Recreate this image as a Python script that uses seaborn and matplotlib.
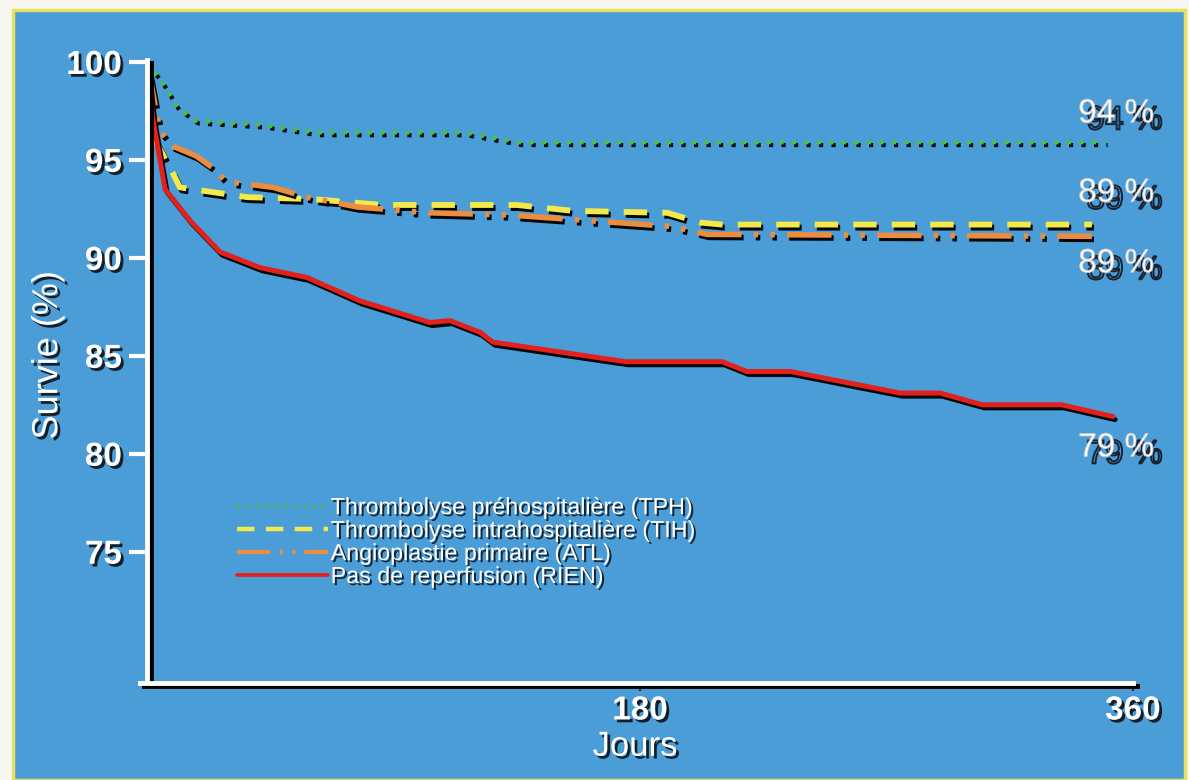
import matplotlib
matplotlib.use("Agg")
import matplotlib.pyplot as plt
import matplotlib.patheffects as pe
from matplotlib.patches import Rectangle
import seaborn as sns

# ---------------- data ----------------
series_names = ["Thrombolyse préhospitalière (TPH)",
                "Thrombolyse intrahospitalière (TIH)",
                "Angioplastie primaire (ATL)",
                "Pas de reperfusion (RIEN)"]

days_tph = [0, 5.8, 11, 18, 42, 62, 116, 136, 350]
surv_tph = [100, 98.9, 97.7, 97.0, 96.8, 96.4, 96.4, 95.9, 95.9]

days_tih = [0, 2.2, 9.5, 12, 26.7, 36.5, 60.6, 86, 135, 155.5, 190, 202, 210, 345]
surv_tih = [100, 96.2, 94.3, 93.6, 93.3, 93.1, 93.0, 92.7, 92.7, 92.4, 92.3, 91.8, 91.7, 91.7]

days_atl = [0, 4.7, 9.5, 18, 24, 29, 46, 58.4, 76.7, 103, 131, 171.6, 192, 204.5, 345]
surv_atl = [100, 96.5, 95.7, 95.2, 94.6, 93.9, 93.6, 93.1, 92.6, 92.3, 92.2, 91.8, 91.6, 91.2, 91.1]

days_rien = [0, 2, 6.6, 15.7, 26.7, 41.3, 58.4, 77.8, 103.3, 110.6, 121.6, 126.3,
             170, 175, 210, 219, 235, 275, 289.5, 305, 334, 352.7]
surv_rien = [100, 97.2, 93.5, 91.9, 90.3, 89.5, 89.0, 87.8, 86.7, 86.8, 86.2, 85.7,
             84.8, 84.7, 84.7, 84.2, 84.2, 83.1, 83.1, 82.5, 82.5, 81.9]

end_labels = ["94 %", "89 %", "89 %", "79 %"]
end_label_y = [97.35, 93.3, 89.7, 80.3]

y_ticks = [75, 80, 85, 90, 95, 100]
x_ticks = [180, 360]

# ---------------- styling ----------------
sns.set_style("white")
plt.rcParams["font.family"] = ["Liberation Sans", "DejaVu Sans"]

BLUE = "#4b9dd8"
fig = plt.figure(figsize=(11.89, 7.80), dpi=100, facecolor="#f7f7f2")
fig.patches.append(Rectangle((13 / 1189, 0), (1185 - 13) / 1189, 1 - 10 / 780,
                             transform=fig.transFigure, facecolor=BLUE,
                             edgecolor="#e8e060", linewidth=2.5, zorder=-5))

ax = fig.add_axes([147 / 1189, 1 - 683 / 780, (1133 - 147) / 1189, (683 - 60) / 780])
ax.set_facecolor("none")
ax.set_zorder(2)

styles = [
    dict(x=days_tph, y=surv_tph, color="#46c24a", lw=3.0, dashes=(1, 2), sh=(1.5, -2)),
    dict(x=days_tih, y=surv_tih, color="#f4e94a", lw=4.2, dashes=(4, 2.6), sh=(1.5, -2.2)),
    dict(x=days_atl, y=surv_atl, color="#ec8c3e", lw=4.0, dashes=(8, 2.2, 0.8, 2.2, 0.8, 2.2), sh=(1.5, -2.2)),
    dict(x=days_rien, y=surv_rien, color="#e3201c", lw=3.6, dashes=None, sh=(1.5, -2.2)),
]

for name, st in zip(series_names, styles):
    sns.lineplot(x=st["x"], y=st["y"], ax=ax, color=st["color"], lw=st["lw"],
                 label=name, estimator=None, sort=False)
    ln = ax.get_lines()[-1]
    if st["dashes"] is not None:
        ln.set_dashes(st["dashes"])
    ln.set_path_effects([pe.SimpleLineShadow(offset=st["sh"], shadow_color="black", alpha=0.95),
                         pe.Normal()])

ax.set_xlim(0, 360)
ax.set_ylim(68.3, 100.1)
ax.set_yticks(y_ticks)
ax.set_xticks(x_ticks)

text_shadow = [pe.withSimplePatchShadow(offset=(2, -2), shadow_rgbFace="#101820", alpha=0.95)]

for lab in ax.get_yticklabels() + ax.get_xticklabels():
    lab.set_fontsize(24)
    lab.set_fontweight("bold")
    lab.set_color("white")
    lab.set_path_effects(text_shadow)

ax.tick_params(axis="y", direction="out", length=13, width=3, color="white", pad=5, left=True)
ax.tick_params(axis="x", direction="out", length=6, width=1.5, color="#333333", pad=3, bottom=True)

for side in ["top", "right"]:
    ax.spines[side].set_visible(False)
for side in ["left", "bottom"]:
    sp = ax.spines[side]
    sp.set_color("white")
    sp.set_linewidth(3.5)
    sp.set_path_effects([pe.SimpleLineShadow(offset=(3, -2), shadow_color="black", alpha=1),
                         pe.Normal()])
ax.spines["bottom"].set_bounds(-2.5, 360)

ax.set_ylabel("Survie (%)", fontsize=26, color="white", path_effects=text_shadow)
ax.yaxis.set_label_coords(-0.083, 0.526)
ax.set_xlabel("Jours", fontsize=25, color="white", path_effects=text_shadow)
ax.xaxis.set_label_coords(0.495, -0.075)

leg = ax.legend(loc="upper left", bbox_to_anchor=(0.082, 0.315), frameon=False,
                fontsize=16.75, handlelength=3.9, handletextpad=0.12, labelspacing=0.0,
                borderaxespad=0)
for t in leg.get_texts():
    t.set_color("white")
    t.set_path_effects([pe.withSimplePatchShadow(offset=(1.5, -1.5),
                                                 shadow_rgbFace="#101820", alpha=0.9)])
for h, st in zip(leg.get_lines(), styles):
    h.set_linewidth(st["lw"] * 0.75)
    h.set_path_effects([])

end_fx = [pe.PathPatchEffect(offset=(6, -5), edgecolor="#1a2230", facecolor="none", linewidth=1.4),
          pe.PathPatchEffect(edgecolor="#c8c8c8", facecolor="white", linewidth=0.6)]
for txt, yv in zip(end_labels, end_label_y):
    ax.text(340, yv, txt, fontsize=24, color="white", ha="left", va="center",
            path_effects=end_fx, clip_on=False)

fig.savefig("out.png", dpi=100, facecolor=fig.get_facecolor())
